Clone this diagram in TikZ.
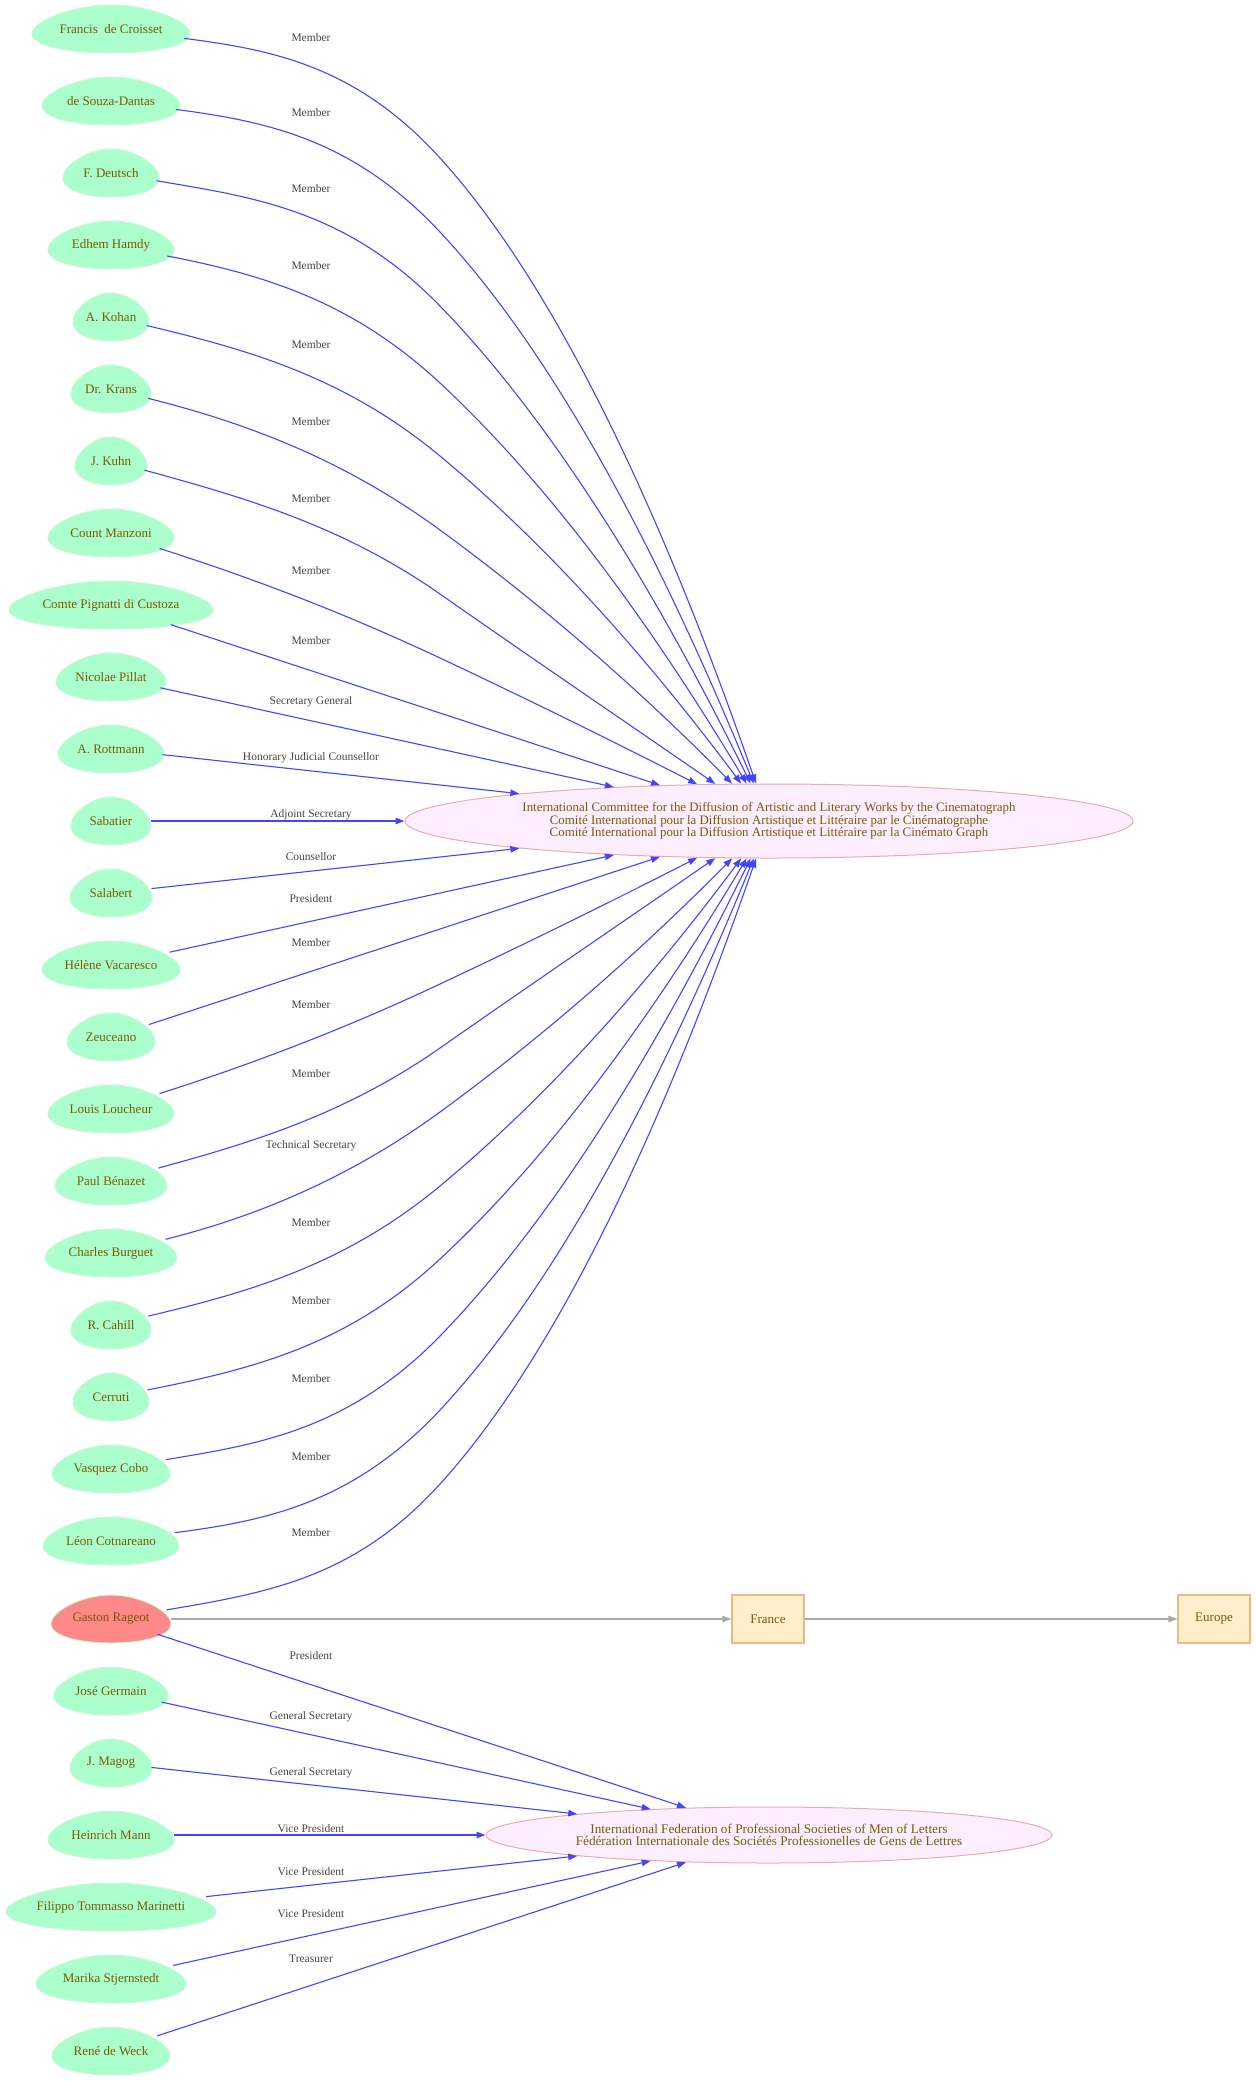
\documentclass[tikz,border=0pt]{standalone}
\usepackage{fontspec}
\setmainfont{Liberation Serif}
\usetikzlibrary{arrows.meta,shapes.geometric}
\definecolor{pgreen}{HTML}{AAFFCC}
\definecolor{pred}{HTML}{FF8888}
\definecolor{pline}{HTML}{CCF7DA}
\definecolor{ttext}{HTML}{7A5A00}
\definecolor{eblue}{HTML}{4444FF}
\definecolor{lgray}{HTML}{444444}
\definecolor{orgfill}{HTML}{FFEEFF}
\definecolor{orgline}{HTML}{EEAAAA}
\definecolor{boxfill}{HTML}{FFEECC}
\definecolor{boxline}{HTML}{E8BC80}
\definecolor{garrow}{HTML}{AAAAAA}
\tikzset{
  pers/.style={ellipse, inner sep=0pt, minimum height=48, text=ttext, font=\fontsize{13}{15}\selectfont},
  org/.style={ellipse, inner sep=0pt, draw=orgline, fill=orgfill, line width=1, text=ttext, align=center},
  place/.style={rectangle, inner sep=0pt, draw=boxline, fill=boxfill, line width=1.2, text=ttext, minimum width=72, minimum height=48, font=\fontsize{13}{15}\selectfont},
  elab/.style={inner sep=0pt, text=lgray, font=\fontsize{11.5}{13}\selectfont},
  eedge/.style={draw=eblue, line width=1.1, -{Triangle[length=9,width=6.5]}},
  gedge/.style={draw=garrow, line width=1.3, -{Triangle[length=9,width=6.5]}}
}
\newcommand\pnode[6][pgreen]{%
  \fill[#1, draw=pline, line width=1] plot[domain=0:360,samples=120,variable=\t]
    ({#3+(#5/2.0456)*cos(\t)*(1+0.22*sin(\t))},{#4+24*sin(\t)}) -- cycle;
  \node[pers, minimum width=#5] (#2) at (#3,#4) {#6};
}
\begin{document}
\begin{tikzpicture}[x=1pt,y=-1pt]
\useasboundingbox (0,0) rectangle (1256,2081);
% organisations
\node[org, minimum width=728, minimum height=74, font=\fontsize{12.9}{12.5}\selectfont] (comm) at (769,821)
  {International Committee for the Diffusion of Artistic and Literary Works by the Cinematograph\\
   Comité International pour la Diffusion Artistique et Littéraire par le Cinématographe\\
   Comité International pour la Diffusion Artistique et Littéraire par la Cinémato Graph};
\node[org, minimum width=566, minimum height=56, font=\fontsize{13.2}{12.5}\selectfont] (fed) at (769,1835)
  {International Federation of Professional Societies of Men of Letters\\
   Fédération Internationale des Sociétés Professionelles de Gens de Lettres};
\node[place] (france) at (768,1619) {France};
\node[place] (europe) at (1214,1619) {Europe};
% people
\pnode{francis}{111}{29}{158}{Francis~~de Croisset}
\pnode{souza}{111}{101}{138}{de Souza-Dantas}
\pnode{deutsch}{111}{173}{96}{F. Deutsch}
\pnode{hamdy}{111}{245}{126}{Edhem Hamdy}
\pnode{kohan}{111}{317}{76}{A. Kohan}
\pnode{krans}{111}{389}{80}{Dr. Krans}
\pnode{kuhn}{111}{461}{72}{J. Kuhn}
\pnode{manzoni}{111}{533}{126}{Count Manzoni}
\pnode{pignatti}{111}{605}{204}{Comte Pignatti di Custoza}
\pnode{pillat}{111}{677}{110}{Nicolae Pillat}
\pnode{rottmann}{111}{749}{106}{A. Rottmann}
\pnode{sabatier}{111}{821}{80}{Sabatier}
\pnode{salabert}{111}{893}{82}{Salabert}
\pnode{vacaresco}{111}{965}{138}{Hélène Vacaresco}
\pnode{zeuceano}{111}{1037}{88}{Zeuceano}
\pnode{loucheur}{111}{1109}{126}{Louis Loucheur}
\pnode{benazet}{111}{1181}{112}{Paul Bénazet}
\pnode{burguet}{111}{1253}{132}{Charles Burguet}
\pnode{cahill}{111}{1325}{80}{R. Cahill}
\pnode{cerruti}{111}{1397}{76}{Cerruti}
\pnode{cobo}{111}{1469}{118}{Vasquez Cobo}
\pnode{cotnareano}{111}{1541}{136}{Léon Cotnareano}
\pnode[pred]{rageot}{111}{1619}{120}{Gaston Rageot}
\pnode{germain}{111}{1691}{114}{José Germain}
\pnode{magog}{111}{1763}{82}{J. Magog}
\pnode{mann}{111}{1835}{126}{Heinrich Mann}
\pnode{marinetti}{111}{1907}{210}{Filippo Tommasso Marinetti}
\pnode{stjern}{111}{1979}{150}{Marika Stjernstedt}
\pnode{weck}{111}{2051}{118}{René de Weck}
% via points
\coordinate (v1) at (440,158);
\coordinate (v2) at (440,232);
\coordinate (v3) at (440,306);
\coordinate (v4) at (440,383);
\coordinate (v5) at (440,456);
\coordinate (v6) at (440,530);
\coordinate (v7) at (440,594);
\coordinate (v8) at (440,658);
\coordinate (w8) at (440,984);
\coordinate (w7) at (440,1048);
\coordinate (w6) at (440,1112);
\coordinate (w5) at (440,1186);
\coordinate (w4) at (440,1259);
\coordinate (w3) at (440,1336);
\coordinate (w2) at (440,1410);
\coordinate (w1) at (440,1484);
% committee edges, upper
\draw[eedge] (francis) .. controls (273.3,49.8) and (356.7,66.3) .. (v1) .. controls (545.7,274.3) and (651.3,481.9) .. (comm);
\draw[eedge] (souza) .. controls (266.7,121.3) and (353.3,139.2) .. (v2) .. controls (544.3,343.6) and (648.7,527.1) .. (comm);
\draw[eedge] (deutsch) .. controls (252.7,197.1) and (346.3,209.5) .. (v3) .. controls (543,412.1) and (646,570.8) .. (comm);
\draw[eedge] (hamdy) .. controls (261.3,274.3) and (350.7,300) .. (v4) .. controls (541.7,477.6) and (643.3,611.1) .. (comm);
\draw[eedge] (kohan) .. controls (248.7,349.9) and (344.3,376.6) .. (v5) .. controls (540,539) and (640,648) .. (comm);
\draw[eedge] (krans) .. controls (248.7,423.6) and (344.3,460.1) .. (v6) .. controls (537.7,601.3) and (635.3,685.7) .. (comm);
\draw[eedge] (kuhn) .. controls (246.7,498.1) and (343.3,526.3) .. (v7) .. controls (533.3,659.3) and (626.7,722.7) .. (comm);
\draw[eedge] (manzoni) .. controls (254.7,578.7) and (347.3,614.4) .. (v8) .. controls (525.7,698.3) and (611.3,740.4) .. (comm);
\draw[eedge] (pignatti) -- (comm);
\draw[eedge] (pillat) -- (comm);
\draw[eedge] (rottmann) -- (comm);
\draw[eedge] (sabatier) -- (comm);
% committee edges, lower
\draw[eedge] (salabert) -- (comm);
\draw[eedge] (vacaresco) -- (comm);
\draw[eedge] (zeuceano) -- (comm);
\draw[eedge] (loucheur) .. controls (254.7,1063.3) and (347.3,1027.6) .. (w8) .. controls (525.7,943.7) and (611.3,901.6) .. (comm);
\draw[eedge] (benazet) .. controls (246.7,1143.9) and (343.3,1115.7) .. (w7) .. controls (533.3,982.7) and (626.7,919.3) .. (comm);
\draw[eedge] (burguet) .. controls (248.7,1218.4) and (344.3,1181.9) .. (w6) .. controls (537.7,1040.7) and (635.3,956.3) .. (comm);
\draw[eedge] (cahill) .. controls (248.7,1292.1) and (344.3,1265.4) .. (w5) .. controls (540,1103) and (640,994) .. (comm);
\draw[eedge] (cerruti) .. controls (261.3,1367.7) and (350.7,1342) .. (w4) .. controls (541.7,1164.4) and (643.3,1030.9) .. (comm);
\draw[eedge] (cobo) .. controls (252.7,1444.9) and (346.3,1432.5) .. (w3) .. controls (543,1229.9) and (646,1071.2) .. (comm);
\draw[eedge] (cotnareano) .. controls (266.7,1520.7) and (353.3,1502.8) .. (w2) .. controls (544.3,1298.4) and (648.7,1114.9) .. (comm);
\draw[eedge] (rageot) .. controls (273.3,1592.2) and (356.7,1575.6) .. (w1) .. controls (545.7,1367.7) and (651.3,1160.1) .. (comm);
% federation edges
\draw[eedge] (rageot) -- (fed);
\draw[eedge] (germain) -- (fed);
\draw[eedge] (magog) -- (fed);
\draw[eedge] (mann) -- (fed);
\draw[eedge] (marinetti) -- (fed);
\draw[eedge] (stjern) -- (fed);
\draw[eedge] (weck) -- (fed);
% places
\draw[gedge] (rageot) -- (france);
\draw[gedge] (france) -- (europe);
% edge labels
\node[elab] (lb1) at (311,38) {Member};
\node[elab] (lb2) at (311,113) {Member};
\node[elab] (lb3) at (311,189) {Member};
\node[elab] (lb4) at (311,266) {Member};
\node[elab] (lb5) at (311,345) {Member};
\node[elab] (lb6) at (311,422) {Member};
\node[elab] (lb7) at (311,499) {Member};
\node[elab] (lb8) at (311,571) {Member};
\node[elab] (lb9) at (311,641) {Member};
\node[elab] (lb10) at (311,702) {Secretary General};
\node[elab] (lb11) at (311,758) {Honorary Judicial Counsellor};
\node[elab] (lb12) at (311,815) {Adjoint Secretary};
\node[elab] (lb13) at (311,857) {Counsellor};
\node[elab] (lb14) at (311,899) {President};
\node[elab] (lb15) at (311,943) {Member};
\node[elab] (lb16) at (311,1005) {Member};
\node[elab] (lb17) at (311,1074) {Member};
\node[elab] (lb18) at (311,1146) {Technical Secretary};
\node[elab] (lb19) at (311,1223) {Member};
\node[elab] (lb20) at (311,1301) {Member};
\node[elab] (lb21) at (311,1379) {Member};
\node[elab] (lb22) at (311,1457) {Member};
\node[elab] (lb23) at (311,1533) {Member};
\node[elab] (lb24) at (311,1656) {President};
\node[elab] (lb25) at (311,1717) {General Secretary};
\node[elab] (lb26) at (311,1773) {General Secretary};
\node[elab] (lb27) at (311,1829) {Vice President};
\node[elab] (lb28) at (311,1872) {Vice President};
\node[elab] (lb29) at (311,1914) {Vice President};
\node[elab] (lb30) at (311,1959) {Treasurer};
\end{tikzpicture}
\end{document}
